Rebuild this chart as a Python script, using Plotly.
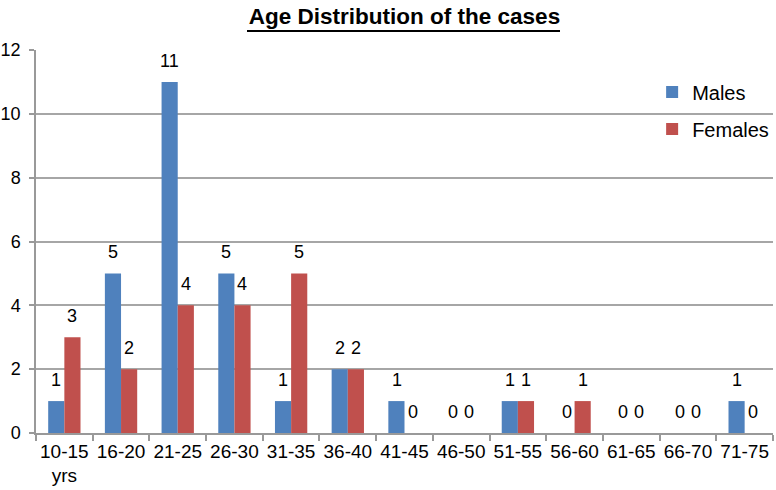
import plotly.graph_objects as go

age_groups = ["10-15<br>yrs", "16-20", "21-25", "26-30", "31-35", "36-40", "41-45",
              "46-50", "51-55", "56-60", "61-65", "66-70", "71-75"]
males = [1, 5, 11, 5, 1, 2, 1, 0, 1, 0, 0, 0, 1]
females = [3, 2, 4, 4, 5, 2, 0, 0, 1, 1, 0, 0, 0]

font_family = "Liberation Sans, Arial, sans-serif"
male_color = "#4F81BD"
female_color = "#C0504D"

fig = go.Figure()
fig.add_trace(go.Bar(x=age_groups, y=males, name="Males", marker_color=male_color,
                     marker_line_width=0, legendgroup="m"))
fig.add_trace(go.Bar(x=age_groups, y=females, name="Females", marker_color=female_color,
                     marker_line_width=0, legendgroup="f"))

# value labels above each bar (half-bar pixel offset for grouped bars)
half_bar = 8
for cat, m, f in zip(age_groups, males, females):
    for val, sh in ((m, -half_bar), (f, half_bar)):
        fig.add_annotation(x=cat, y=val, text=str(val), showarrow=False,
                           xshift=sh, yshift=21, yanchor="middle", xanchor="center",
                           font=dict(size=18, color="black"))

fig.update_layout(
    width=776, height=490,
    barmode="group", bargap=0.43, bargroupgap=0,
    plot_bgcolor="white", paper_bgcolor="white",
    font=dict(family=font_family, size=19, color="black"),
    margin=dict(l=36, r=3, t=50, b=57, autoexpand=False),
    title=dict(text="<b>Age Distribution of the cases</b>", x=0.5, xref="paper",
               xanchor="center", yref="container", y=1 - 16 / 490, yanchor="middle",
               font=dict(size=22.5, color="black")),
    legend=dict(x=0.836, y=0.941, xanchor="left", yanchor="top", bgcolor="rgba(0,0,0,0)",
                font=dict(size=20), itemwidth=30, tracegroupgap=8, traceorder="grouped"),
    xaxis=dict(showline=True, linecolor="#999999", linewidth=1.5, ticks="outside",
               tickson="boundaries", tickcolor="#999999", ticklen=6, tickwidth=1.5,
               tickfont=dict(size=19), tickangle=0, automargin=False),
    yaxis=dict(range=[0, 12], dtick=2, showgrid=True, gridcolor="#A6A6A6", gridwidth=1.5,
               showline=True, linecolor="#999999", linewidth=1.5, ticks="outside",
               tickcolor="#999999", ticklen=5, tickwidth=1.5, tickfont=dict(size=18),
               zeroline=False, automargin=False, ticklabelstandoff=5),
)

# title underline
fig.add_shape(type="line", xref="paper", yref="paper", x0=0.2863, x1=0.711,
              y0=1.0496, y1=1.0496, line=dict(color="black", width=2))

fig.write_html("out.html", config={"displayModeBar": False},
               post_script="document.body.style.margin='0';document.body.style.overflow='hidden';")
